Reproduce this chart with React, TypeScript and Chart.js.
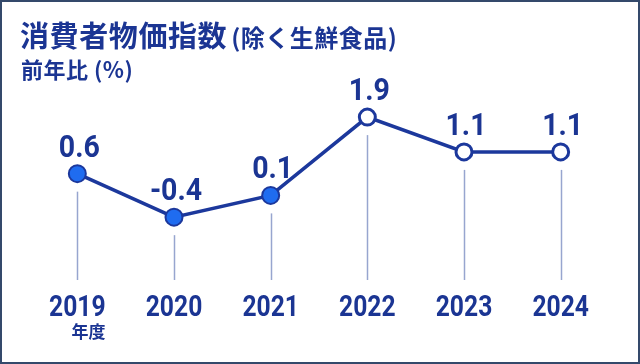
import React, { useEffect, useRef } from "react";
import { Chart, registerables } from "chart.js";

Chart.register(...registerables);

const years = ["2019", "2020", "2021", "2022", "2023", "2024"];
const cpiValues = [0.6, -0.4, 0.1, 1.9, 1.1, 1.1];
const valueLabels = ["0.6", "-0.4", "0.1", "1.9", "1.1", "1.1"];
const titleMain = "消費者物価指数";
const titleSub = "(除く生鮮食品)";
const unitLabel = "前年比 (%)";
const yearUnit = "年度";

const NAVY = "#1b3593";
const LINE = "#1c389c";
const FILL = "#1f6cf0";
const DROP = "#97a5cf";
const NUM_FONT = "Roboto, sans-serif";

function drawNarrow(ctx: any, text: string, x: number, y: number, sx: number) {
  ctx.save();
  ctx.translate(x, y);
  ctx.scale(sx, 1);
  ctx.fillText(text, 0, 0);
  ctx.restore();
}

const overlayPlugin = {
  id: "overlay",
  beforeDatasetsDraw(chart: any) {
    const { ctx } = chart;
    const meta = chart.getDatasetMeta(0);
    ctx.save();
    ctx.strokeStyle = DROP;
    ctx.lineWidth = 1.5;
    meta.data.forEach((pt: any) => {
      ctx.beginPath();
      ctx.moveTo(Math.round(pt.x) + 0.5, pt.y + 18);
      ctx.lineTo(Math.round(pt.x) + 0.5, 280);
      ctx.stroke();
    });
    ctx.restore();
  },
  afterDatasetsDraw(chart: any) {
    const { ctx } = chart;
    const meta = chart.getDatasetMeta(0);
    ctx.save();
    ctx.fillStyle = NAVY;
    ctx.textAlign = "center";
    ctx.textBaseline = "alphabetic";
    meta.data.forEach((pt: any, i: number) => {
      ctx.font = `bold 31px ${NUM_FONT}`;
      drawNarrow(ctx, valueLabels[i], pt.x + 2, pt.y - 17, 0.92);
      ctx.font = `bold 29px ${NUM_FONT}`;
      drawNarrow(ctx, years[i], pt.x, 316, 0.85);
    });
    const first = meta.data[0];
    ctx.font = `bold 29px ${NUM_FONT}`;
    const w = ctx.measureText(years[0]).width * 0.85;
    ctx.font = `bold 17px 'Noto Sans CJK JP', sans-serif`;
    ctx.textAlign = "right";
    ctx.fillText(yearUnit, first.x + w / 2, 338);
    ctx.restore();
  },
};

export default function App() {
  const canvasRef = useRef<HTMLCanvasElement | null>(null);

  useEffect(() => {
    if (!canvasRef.current) return;
    const chart = new Chart(canvasRef.current, {
      type: "line",
      data: {
        labels: years,
        datasets: [
          {
            data: cpiValues,
            borderColor: LINE,
            borderWidth: 3.5,
            tension: 0,
            pointRadius: (c: any) => (c.dataIndex >= 3 ? 8 : 8.5),
            pointBorderWidth: (c: any) => (c.dataIndex >= 3 ? 3 : 2),
            pointBackgroundColor: (c: any) => (c.dataIndex >= 3 ? "#ffffff" : FILL),
            pointBorderColor: LINE,
          },
        ],
      },
      options: {
        responsive: false,
        animation: false,
        devicePixelRatio: 1,
        layout: { padding: { top: 91, bottom: 99, left: 29, right: 31 } },
        plugins: { legend: { display: false }, tooltip: { enabled: false }, title: { display: false } },
        scales: {
          x: { type: "category", offset: true, display: false },
          y: { type: "linear", min: -1.5, max: 2.5, display: false },
        },
      },
      plugins: [overlayPlugin],
    });
    return () => chart.destroy();
  }, []);

  return (
    <div style={{ position: "fixed", left: 0, top: 0, width: 640, height: 364, background: "#ffffff", overflow: "hidden" }}>
      <canvas ref={canvasRef} width={640} height={364} style={{ position: "absolute", left: 0, top: 0 }} />
      <div
        style={{
          position: "absolute",
          left: 20,
          top: 19,
          whiteSpace: "nowrap",
          fontFamily: "'Noto Sans CJK JP', sans-serif",
          fontWeight: 700,
          color: NAVY,
          lineHeight: "30px",
        }}
      >
        <span style={{ fontSize: 29, letterSpacing: 0.6 }}>{titleMain}</span>
        <span style={{ fontSize: 24, marginLeft: 4, letterSpacing: 0.5 }}>{titleSub}</span>
      </div>
      <div
        style={{
          position: "absolute",
          left: 21,
          top: 55,
          whiteSpace: "nowrap",
          fontFamily: "'Noto Sans CJK JP', sans-serif",
          fontWeight: 700,
          fontSize: 22,
          letterSpacing: 0.5,
          lineHeight: "26px",
          color: NAVY,
        }}
      >
        {unitLabel}
      </div>
      <div
        style={{
          position: "absolute",
          left: 0,
          top: 0,
          width: 640,
          height: 364,
          boxSizing: "border-box",
          border: "2px solid #34496b",
          pointerEvents: "none",
        }}
      />
    </div>
  );
}
